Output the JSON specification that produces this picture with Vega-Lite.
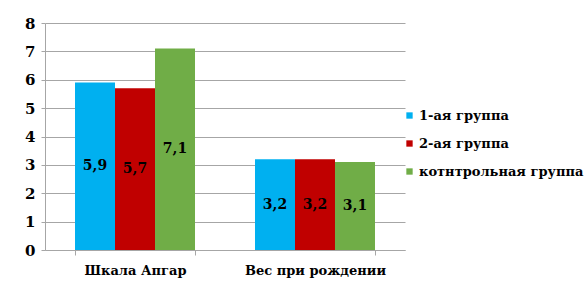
{
  "$schema": "https://vega.github.io/schema/vega-lite/v6.json",
  "width": 360,
  "height": 227,
  "autosize": "none",
  "padding": {"left": 45, "top": 23, "right": 179, "bottom": 36},
  "background": "white",
  "config": {
    "locale": {"number": {"decimal": ",", "thousands": " ", "grouping": [3], "currency": ["", ""]}},
    "view": {"stroke": null},
    "font": "DejaVu Serif",
    "axis": {
      "labelFont": "DejaVu Serif",
      "labelFontWeight": "bold",
      "labelColor": "black",
      "domainColor": "#a6a6a6",
      "tickColor": "#a6a6a6",
      "gridColor": "#a6a6a6",
      "title": null
    },
    "legend": {"labelFont": "DejaVu Serif", "labelLimit": 300},
    "text": {"font": "DejaVu Serif"}
  },
  "data": {
    "values": [
      {"category": "Шкала  Апгар", "group": "1-ая группа", "value": 5.9},
      {"category": "Шкала  Апгар", "group": "2-ая группа", "value": 5.7},
      {"category": "Шкала  Апгар", "group": "котнтрольная  группа", "value": 7.1},
      {"category": "Вес при рождении", "group": "1-ая группа", "value": 3.2},
      {"category": "Вес при рождении", "group": "2-ая группа", "value": 3.2},
      {"category": "Вес при рождении", "group": "котнтрольная  группа", "value": 3.1}
    ]
  },
  "encoding": {
    "x": {
      "field": "category",
      "type": "nominal",
      "sort": null,
      "scale": {"paddingInner": 0.3333, "paddingOuter": 0.1667},
      "axis": {
        "labelAngle": 0,
        "labelFontSize": 13,
        "labelPadding": 9,
        "tickBand": "extent",
        "tickSize": 5
      }
    },
    "xOffset": {"field": "group", "type": "nominal", "sort": null, "scale": {"paddingInner": 0, "paddingOuter": 0}},
    "y": {
      "field": "value",
      "type": "quantitative",
      "scale": {"domain": [0, 8], "nice": false},
      "axis": {
        "values": [0, 1, 2, 3, 4, 5, 6, 7, 8],
        "labelFontSize": 15,
        "labelPadding": 6,
        "tickSize": 4,
        "grid": true,
        "labelOverlap": false,
        "format": "d"
      }
    }
  },
  "layer": [
    {
      "mark": {"type": "bar"},
      "encoding": {
        "y": {
          "field": "value",
          "type": "quantitative",
          "stack": null,
          "scale": {"domain": [0, 8], "nice": false},
          "axis": {
            "values": [0, 1, 2, 3, 4, 5, 6, 7, 8],
            "labelFontSize": 15,
            "labelPadding": 6,
            "tickSize": 4,
            "grid": true,
            "labelOverlap": false,
            "format": "d"
          }
        },
        "color": {
          "field": "group",
          "type": "nominal",
          "sort": null,
          "scale": {"range": ["#00B0F0", "#C00000", "#70AD47"]},
          "legend": {
            "title": null,
            "orient": "none",
            "legendX": 358,
            "legendY": 86,
            "padding": 0,
            "symbolType": "square",
            "symbolSize": 40,
            "symbolStrokeWidth": 0,
            "labelFontWeight": "bold",
            "labelFontSize": 13,
            "labelColor": "black",
            "labelOffset": 3,
            "rowPadding": 14
          }
        }
      }
    },
    {
      "mark": {"type": "text", "fontWeight": "bold", "fontSize": 14, "color": "black", "baseline": "middle"},
      "encoding": {
        "y": {
          "field": "value",
          "type": "quantitative",
          "stack": "zero",
          "bandPosition": 0.5,
          "scale": {"domain": [0, 8], "nice": false},
          "axis": {
            "values": [0, 1, 2, 3, 4, 5, 6, 7, 8],
            "labelFontSize": 15,
            "labelPadding": 6,
            "tickSize": 4,
            "grid": true,
            "labelOverlap": false,
            "format": "d"
          }
        },
        "detail": {"field": "group"},
        "text": {"field": "value", "type": "quantitative", "format": ".1f"}
      }
    }
  ]
}
